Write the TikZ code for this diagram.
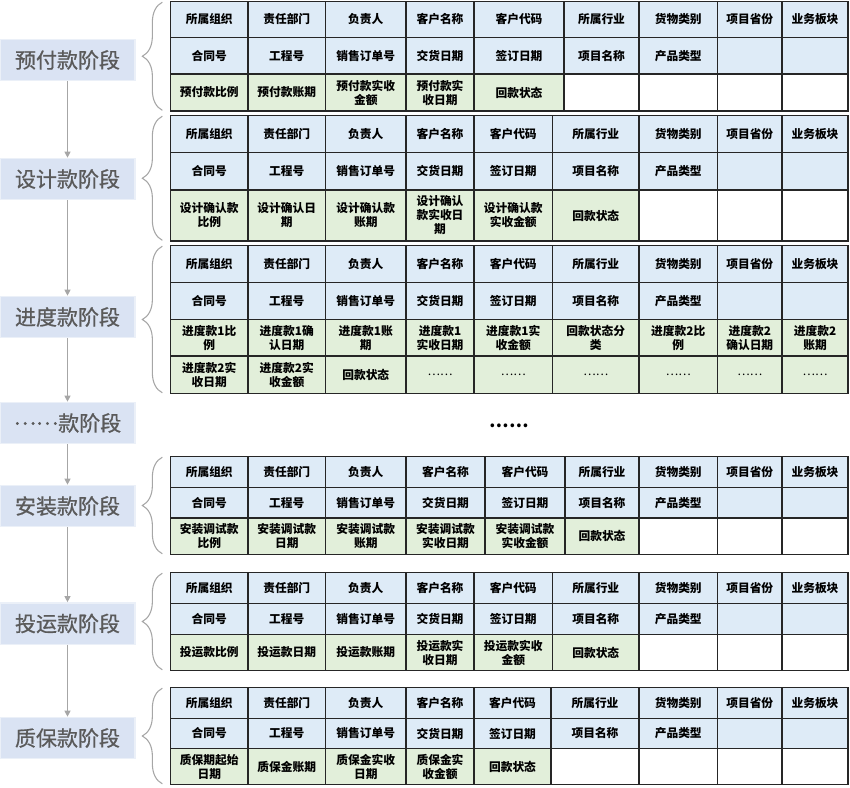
\documentclass[tikz,border=0pt]{standalone}
\usepackage{fontspec}
\setmainfont{Noto Sans CJK SC}
\newfontfamily\stagefont[FakeBold=0.8]{Noto Sans CJK SC}
\usetikzlibrary{
  calc,positioning,
  arrows.meta,
  decorations.pathreplacing
}

\definecolor{hdrblue}{HTML}{DEEBF7}
\definecolor{paygreen}{HTML}{E2EFDA}
\definecolor{stagefill}{HTML}{DAE3F3}
\definecolor{stagetext}{HTML}{5A5A5A}
\definecolor{linkgray}{HTML}{A6A6A6}
\definecolor{gridline}{HTML}{262626}

\newcommand\payrow[6]{%
  \foreach \sty/\txt [count=\k] in {#6} {
    \pgfmathsetmacro\xa{{170.5,248,325.5,406,#4,#5,639,717.5,782}[\k-1]}
    \pgfmathsetmacro\xb{{248,325.5,406,#4,#5,639,717.5,782,848}[\k-1]}
    \node[cell,\sty,minimum width=(\xb-\xa)*0.75pt,minimum height=(#3-#2)*0.75pt]
      (#1-\k) at ({(\xa+\xb)/2},{(#2+#3)/2}) {\txt};
  }}
\newcommand\hdrrows[6]{%
  \payrow{#1-1}{#2}{#3}{#5}{#6}{hdr/所属组织,hdr/责任部门,hdr/负责人,hdr/客户名称,hdr/客户代码,hdr/所属行业,hdr/货物类别,hdr/项目省份,hdr/业务板块}
  \payrow{#1-2}{#3}{#4}{#5}{#6}{hdr/合同号,hdr/工程号,hdr/销售订单号,hdr/交货日期,hdr/签订日期,hdr/项目名称,hdr/产品类型,hdr/{},hdr/{}}}

\begin{document}
\begin{tikzpicture}[x=0.75pt,y=-0.75pt,
  cell/.style={draw=gridline,line width=1pt,inner sep=1pt,align=center,
    font=\bfseries\fontsize{8.8}{10.5}\selectfont},
  hdr/.style={fill=hdrblue},
  pay/.style={fill=paygreen},
  vac/.style={fill=white},
  stage/.style={draw=stagefill!55!white,line width=1pt,fill=stagefill,text=stagetext,
    minimum width=101pt,minimum height=31pt,inner sep=0pt,
    font=\stagefont\fontsize{15.75}{18}\selectfont},
  flow/.style={draw=linkgray,line width=0.8pt,-{Triangle[length=4.5pt,width=4.5pt]}},
  brace/.style={draw=linkgray,line width=0.8pt,decorate,decoration={brace,amplitude=15pt}}
]
\useasboundingbox (0,0) rectangle (850,788);

\node[stage] (s1) at (67.5,60) {预付款阶段};
\node[stage] (s2) at (67.5,179) {设计款阶段};
\node[stage] (s3) at (67.5,317) {进度款阶段};
\node[stage] (s4) at (67.5,423) {\raisebox{.3em}{……}款阶段};
\node[stage] (s5) at (67.5,506) {安装款阶段};
\node[stage] (s6) at (67.5,623.5) {投运款阶段};
\node[stage] (s7) at (67.5,738) {质保款阶段};
\foreach \a/\b in {s1/s2,s2/s3,s3/s4,s4/s5,s5/s6,s6/s7}
  \draw[flow] (\a) -- (\b);

\hdrrows{t1}{1.5}{37.5}{74}{474}{564}
\payrow{t1-3}{74}{111}{474}{564}{pay/预付款比例,pay/预付款账期,pay/预付款实收\\金额,pay/预付款实\\收日期,pay/回款状态,vac/{},vac/{},vac/{},vac/{}}

\hdrrows{t2}{115.5}{152.5}{190}{474}{552.5}
\payrow{t2-3}{190}{241}{474}{552.5}{pay/设计确认款\\比例,pay/设计确认日\\期,pay/设计确认款\\账期,pay/设计确认\\款实收日\\期,pay/设计确认款\\实收金额,pay/回款状态,vac/{},vac/{},vac/{}}

\hdrrows{t3}{245.5}{282.5}{319.5}{474}{552.5}
\payrow{t3-3}{319.5}{356}{474}{552.5}{pay/进度款1比\\例,pay/进度款1确\\认日期,pay/进度款1账\\期,pay/进度款1\\实收日期,pay/进度款1实\\收金额,pay/回款状态分\\类,pay/进度款2比\\例,pay/进度款2\\确认日期,pay/进度款2\\账期}
\payrow{t3-4}{356}{393.5}{474}{552.5}{pay/进度款2实\\收日期,pay/进度款2实\\收金额,pay/回款状态,pay/{\mdseries ……},pay/{\mdseries ……},pay/{\mdseries ……},pay/{\mdseries ……},pay/{\mdseries ……},pay/{\mdseries ……}}

\node[font=\bfseries\fontsize{13}{13}\selectfont] (more) at (509,426) {……};

\hdrrows{t5}{456.5}{487.5}{518}{485}{565}
\payrow{t5-3}{518}{554.5}{485}{565}{pay/安装调试款\\比例,pay/安装调试款\\日期,pay/安装调试款\\账期,pay/安装调试款\\实收日期,pay/安装调试款\\实收金额,pay/回款状态,vac/{},vac/{},vac/{}}

\hdrrows{t6}{572.5}{603.5}{634.5}{474}{552.5}
\payrow{t6-3}{634.5}{670.5}{474}{552.5}{pay/投运款比例,pay/投运款日期,pay/投运款账期,pay/投运款实\\收日期,pay/投运款实收\\金额,pay/回款状态,vac/{},vac/{},vac/{}}

\hdrrows{t7}{687.5}{718.5}{748.5}{474}{551}
\payrow{t7-3}{748.5}{784.5}{474}{551}{pay/质保期起始\\日期,pay/质保金账期,pay/质保金实收\\日期,pay/质保金实\\收金额,pay/回款状态,vac/{},vac/{},vac/{},vac/{}}

\draw[brace] ([xshift=-5.6pt,yshift=1pt]t1-3-1.south west) -- ([xshift=-5.6pt,yshift=-1pt]t1-1-1.north west);
\draw[brace] ([xshift=-5.6pt,yshift=1pt]t2-3-1.south west) -- ([xshift=-5.6pt,yshift=-1pt]t2-1-1.north west);
\draw[brace] ([xshift=-5.6pt,yshift=1pt]t3-4-1.south west) -- ([xshift=-5.6pt,yshift=-1pt]t3-1-1.north west);
\draw[brace] ([xshift=-5.6pt,yshift=1pt]t5-3-1.south west) -- ([xshift=-5.6pt,yshift=-1pt]t5-1-1.north west);
\draw[brace] ([xshift=-5.6pt,yshift=1pt]t6-3-1.south west) -- ([xshift=-5.6pt,yshift=-1pt]t6-1-1.north west);
\draw[brace] ([xshift=-5.6pt,yshift=1pt]t7-3-1.south west) -- ([xshift=-5.6pt,yshift=-1pt]t7-1-1.north west);
\end{tikzpicture}
\end{document}
